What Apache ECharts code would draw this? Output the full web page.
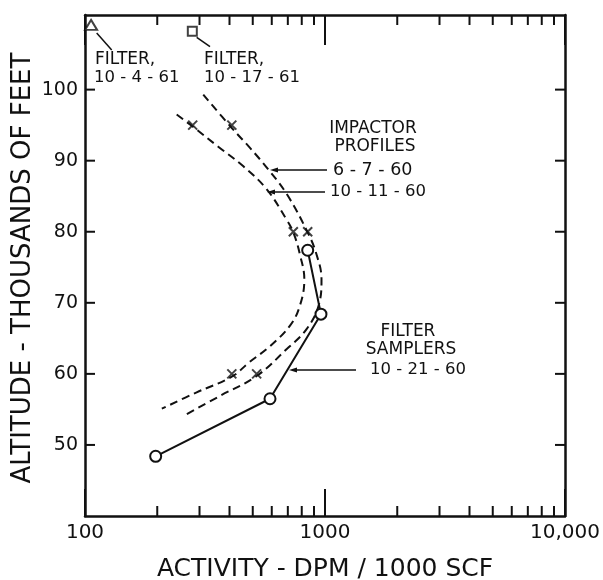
<!DOCTYPE html>
<html>
<head>
<meta charset="utf-8">
<script src="https://cdn.jsdelivr.net/npm/echarts@6/dist/echarts.min.js"></script>
<style>
html,body{margin:0;padding:0;background:#fff;}
#c{width:603px;height:580px;}
</style>
</head>
<body>
<div id="c"></div>
<script>
// ---- data ----
var profile6760X = [311, 409, 487, 579, 693, 847, 922, 967, 944, 838, 693, 519, 365, 261];
var profile6760Y = [99.3, 94.6, 91.8, 88.8, 85.3, 79.9, 76.8, 73.3, 69.8, 66.3, 63.5, 59.7, 56.9, 54.2];
var profile6760MarkX = [409, 847, 519];
var profile6760MarkY = [95, 80, 60];

var profile101160X = [241, 281, 358, 457, 571, 692, 738, 786, 820, 786, 715, 590, 482, 409, 292, 209];
var profile101160Y = [96.5, 94.8, 92.0, 89.2, 86.0, 81.7, 79.9, 76.8, 73.3, 69.6, 66.8, 63.9, 61.6, 59.6, 57.4, 55.1];
var profile101160MarkX = [281, 738, 409];
var profile101160MarkY = [95, 80, 60];

var samplerX = [197, 590, 962, 847];
var samplerY = [48.4, 56.5, 68.4, 77.4];

var filter10461 = [106, 109.1];
var filter101761 = [280, 108.2];

var xMinorTicks = [200, 300, 400, 500, 600, 700, 800, 900, 2000, 3000, 4000, 5000, 6000, 7000, 8000, 9000];
var yTicks = [50, 60, 70, 80, 90, 100];

var X_MIN = 100, X_MAX = 10000, Y_MIN = 40, Y_MAX = 110.5;

function zip(a, b) { return a.map(function (v, i) { return [v, b[i]]; }); }

var FONT = "'DejaVu Sans', sans-serif";
var INK = '#111';

var chart = echarts.init(document.getElementById('c'), null, {renderer: 'canvas'});

var xAxisBase = {
  type: 'log', logBase: 10, min: X_MIN, max: X_MAX,
  axisLine: {show: true, lineStyle: {color: INK, width: 2.5}},
  splitLine: {show: false},
  minorTick: {show: false}
};
var yAxisBase = {
  type: 'value', min: Y_MIN, max: Y_MAX, interval: 10,
  axisLine: {show: true, lineStyle: {color: INK, width: 2.5}},
  splitLine: {show: false},
  axisTick: {show: false}
};

var xSymbol = 'path://M0,0L10,10M10,0L0,10';
var st = {stroke: INK, lineWidth: 2};

var option = {
  backgroundColor: '#fff',
  animation: false,
  grid: {left: 85, right: 38, top: 15, bottom: 64, containLabel: false},
  xAxis: [
    Object.assign({}, xAxisBase, {
      position: 'bottom',
      axisTick: {show: true, inside: true, length: 27, lineStyle: {color: INK, width: 2}},
      axisLabel: {
        color: INK, fontFamily: FONT, fontSize: 20, margin: 7,
        formatter: function (v) { return v === 10000 ? '10,000' : String(v); }
      }
    }),
    Object.assign({}, xAxisBase, {
      position: 'top',
      axisTick: {show: true, inside: true, length: 30, lineStyle: {color: INK, width: 2}},
      axisLabel: {show: false}
    })
  ],
  yAxis: [
    Object.assign({}, yAxisBase, {
      position: 'left',
      axisLabel: {
        color: INK, fontFamily: FONT, fontSize: 19, margin: 7,
        formatter: function (v) { return yTicks.indexOf(v) >= 0 ? String(v) : ''; }
      }
    }),
    Object.assign({}, yAxisBase, {
      position: 'right',
      axisLabel: {show: false}
    })
  ],
  series: [
    {
      name: 'x minor ticks', type: 'custom', xAxisIndex: 0, yAxisIndex: 0, silent: true,
      data: xMinorTicks.map(function (v) { return [v, Y_MIN]; }),
      renderItem: function (params, api) {
        var b = api.coord([api.value(0), Y_MIN]);
        var t = api.coord([api.value(0), Y_MAX]);
        return {type: 'group', children: [
          {type: 'line', shape: {x1: b[0], y1: b[1], x2: b[0], y2: b[1] - 10}, style: st},
          {type: 'line', shape: {x1: t[0], y1: t[1], x2: t[0], y2: t[1] + 10}, style: st}
        ]};
      }
    },
    {
      name: 'y ticks', type: 'custom', xAxisIndex: 0, yAxisIndex: 0, silent: true,
      data: yTicks.map(function (v) { return [X_MIN, v]; }),
      renderItem: function (params, api) {
        var l = api.coord([X_MIN, api.value(1)]);
        var r = api.coord([X_MAX, api.value(1)]);
        return {type: 'group', children: [
          {type: 'line', shape: {x1: l[0], y1: l[1], x2: l[0] + 10, y2: l[1]}, style: st},
          {type: 'line', shape: {x1: r[0], y1: r[1], x2: r[0] - 10, y2: r[1]}, style: st}
        ]};
      }
    },
    {
      name: '6-7-60', type: 'line', smooth: 0.4, showSymbol: false,
      data: zip(profile6760X, profile6760Y),
      lineStyle: {color: INK, width: 2, type: [8, 5]}
    },
    {
      name: '10-11-60', type: 'line', smooth: 0.4, showSymbol: false,
      data: zip(profile101160X, profile101160Y),
      lineStyle: {color: INK, width: 2, type: [8, 5]}
    },
    {
      name: '6-7-60 points', type: 'scatter', symbol: xSymbol, symbolSize: 9,
      data: zip(profile6760MarkX, profile6760MarkY),
      itemStyle: {color: 'none', borderColor: INK, borderWidth: 2}
    },
    {
      name: '10-11-60 points', type: 'scatter', symbol: xSymbol, symbolSize: 9,
      data: zip(profile101160MarkX, profile101160MarkY),
      itemStyle: {color: 'none', borderColor: INK, borderWidth: 2}
    },
    {
      name: '10-21-60', type: 'line', symbol: 'circle', symbolSize: 11, showSymbol: true,
      data: zip(samplerX, samplerY),
      lineStyle: {color: INK, width: 2},
      itemStyle: {color: '#fff', borderColor: INK, borderWidth: 2}
    },
    {
      name: 'Filter 10-4-61', type: 'scatter', symbol: 'triangle', symbolSize: [12, 10],
      data: [filter10461],
      itemStyle: {color: '#fff', borderColor: INK, borderWidth: 2}
    },
    {
      name: 'Filter 10-17-61', type: 'scatter', symbol: 'rect', symbolSize: 9,
      data: [filter101761],
      itemStyle: {color: '#fff', borderColor: INK, borderWidth: 2}
    }
  ],
  graphic: []
};

function txt(x, y, s, align, size, rot) {
  return {
    type: 'text', x: x, y: y, rotation: rot || 0, silent: true,
    style: {text: s, fill: INK, font: (size || 16) + 'px ' + FONT, textAlign: align || 'left', textVerticalAlign: 'middle'}
  };
}
function seg(x1, y1, x2, y2) {
  return {type: 'line', silent: true, shape: {x1: x1, y1: y1, x2: x2, y2: y2}, style: {stroke: INK, lineWidth: 1.5}};
}
function arrowHead(x, y) {
  return {type: 'polygon', silent: true, shape: {points: [[x, y], [x + 8, y - 2.5], [x + 8, y + 2.5]]}, style: {fill: INK}};
}

option.graphic = [
  // axis titles
  txt(325, 569, 'ACTIVITY - DPM / 1000 SCF', 'center', 25),
  txt(23, 268, 'ALTITUDE - THOUSANDS OF FEET', 'center', 26, Math.PI / 2),
  // filter labels
  seg(96.7, 33, 111.7, 50),
  txt(95, 60, 'FILTER,', 'left', 17),
  txt(94, 78, '10 - 4 - 61', 'left', 16.5),
  seg(196.7, 37.3, 210, 46.7),
  txt(204, 60, 'FILTER,', 'left', 17),
  txt(204, 78, '10 - 17 - 61', 'left', 16.5),
  // impactor profiles
  txt(373, 129, 'IMPACTOR', 'center', 17),
  txt(375, 147, 'PROFILES', 'center', 17),
  seg(278, 170, 327, 170), arrowHead(270, 170),
  txt(333, 170, '6 - 7 - 60', 'left', 17.5),
  seg(275, 192, 325, 192), arrowHead(267, 192),
  txt(330, 192, '10 - 11 - 60', 'left', 16.5),
  // filter samplers
  txt(408, 332, 'FILTER', 'center', 17),
  txt(411, 350, 'SAMPLERS', 'center', 17),
  seg(297, 370, 356, 370), arrowHead(289, 370),
  txt(370, 370, '10 - 21 - 60', 'left', 16.5)
];

chart.setOption(option);
</script>
</body>
</html>
